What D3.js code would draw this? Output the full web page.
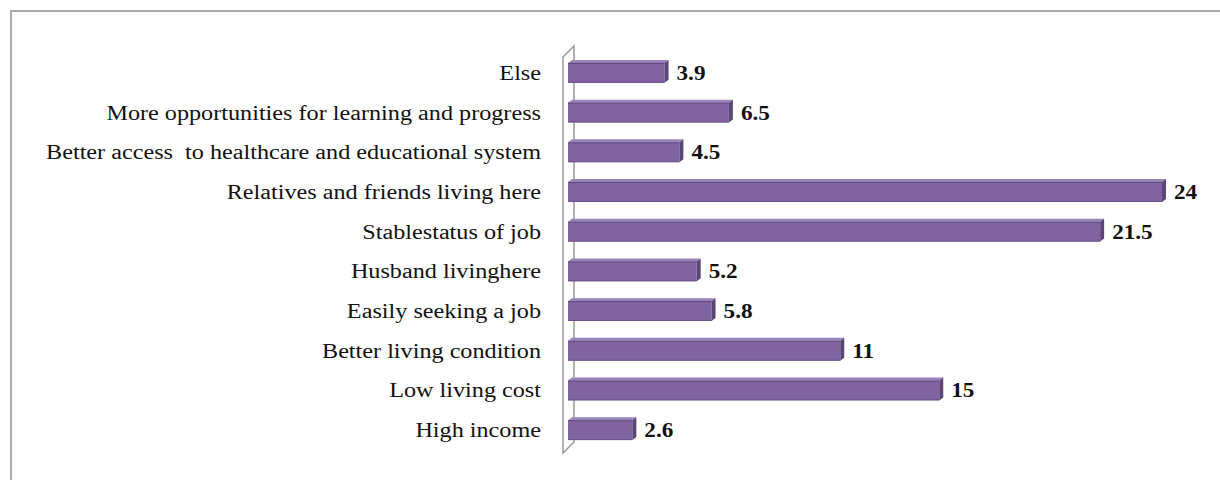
<!DOCTYPE html>
<html><head><meta charset="utf-8">
<script src="https://cdn.jsdelivr.net/npm/d3@7"></script>
<style>body{margin:0;background:#fff}svg{display:block}</style>
</head><body>
<svg id="c" width="1220" height="480"></svg>
<script>
const categories = ["Else","More opportunities for learning and progress","Better access  to healthcare and educational system","Relatives and friends living here","Stablestatus of job","Husband livinghere","Easily seeking a job","Better living condition","Low living cost","High income"];
const values = [3.9,6.5,4.5,24,21.5,5.2,5.8,11,15,2.6];
const valueLabels = ["3.9","6.5","4.5","24","21.5","5.2","5.8","11","15","2.6"];

const svg = d3.select("#c");
svg.append("rect").attr("x",11).attr("y",11).attr("width",1240).attr("height",500)
  .attr("fill","none").attr("stroke","#aaa").attr("stroke-width",2);

const x = d3.scaleLinear().domain([0,24]).range([568,1162]);
const y = d3.scaleBand().domain(categories).range([53,450]).paddingInner(0.5).paddingOuter(0.25);
const d = 4; // depth offset

// wall
const wall = svg.append("g").attr("fill","none").attr("stroke","#999").attr("stroke-width",1.5);
wall.append("path").attr("d",`M563,57 L574,46 L574,442 L563,453 Z`).attr("fill","#fff");

const g = svg.append("g");
categories.forEach((c,i)=>{
  const x0 = x(0), x1 = x(values[i]), yt = y(c), h = y.bandwidth();
  g.append("path").attr("d",`M${x0},${yt} L${x0+d},${yt-d+1} L${x1+d},${yt-d+1} L${x1},${yt} Z`).attr("fill","#9a82ba");
  g.append("rect").attr("x",x0).attr("y",yt).attr("width",x1-x0).attr("height",h).attr("fill","#8064a2");
  g.append("line").attr("x1",x0).attr("x2",x1).attr("y1",yt+0.5).attr("y2",yt+0.5).attr("stroke","#5e4a7a").attr("stroke-width",1);
  g.append("line").attr("x1",x0).attr("x2",x1).attr("y1",yt+h-0.5).attr("y2",yt+h-0.5).attr("stroke","#6a5388").attr("stroke-width",1);
  g.append("path").attr("d",`M${x1},${yt} L${x1+d},${yt-d+1} L${x1+d},${yt+h-d+1} L${x1},${yt+h} Z`).attr("fill","#5b4677");
});

// category labels (horizontally stretched like the reference)
svg.append("g").selectAll("text").data(categories).join("text")
  .attr("transform",c=>`translate(541,${y(c)+y.bandwidth()/2}) scale(1.21,1)`).attr("dy","0.35em")
  .attr("text-anchor","end").attr("font-family","'Liberation Serif','Times New Roman',serif")
  .attr("font-size",20).attr("fill","#111").style("white-space","pre").text(c=>c);

// value labels
svg.append("g").selectAll("text").data(categories).join("text")
  .attr("transform",(c,i)=>`translate(${x(values[i])+12},${y(c)+y.bandwidth()/2}) scale(1.16,1)`).attr("dy","0.35em")
  .attr("font-family","'Liberation Serif','Times New Roman',serif").attr("font-weight","bold")
  .attr("font-size",20).attr("fill","#111").text((c,i)=>valueLabels[i]);
</script>
</body></html>
